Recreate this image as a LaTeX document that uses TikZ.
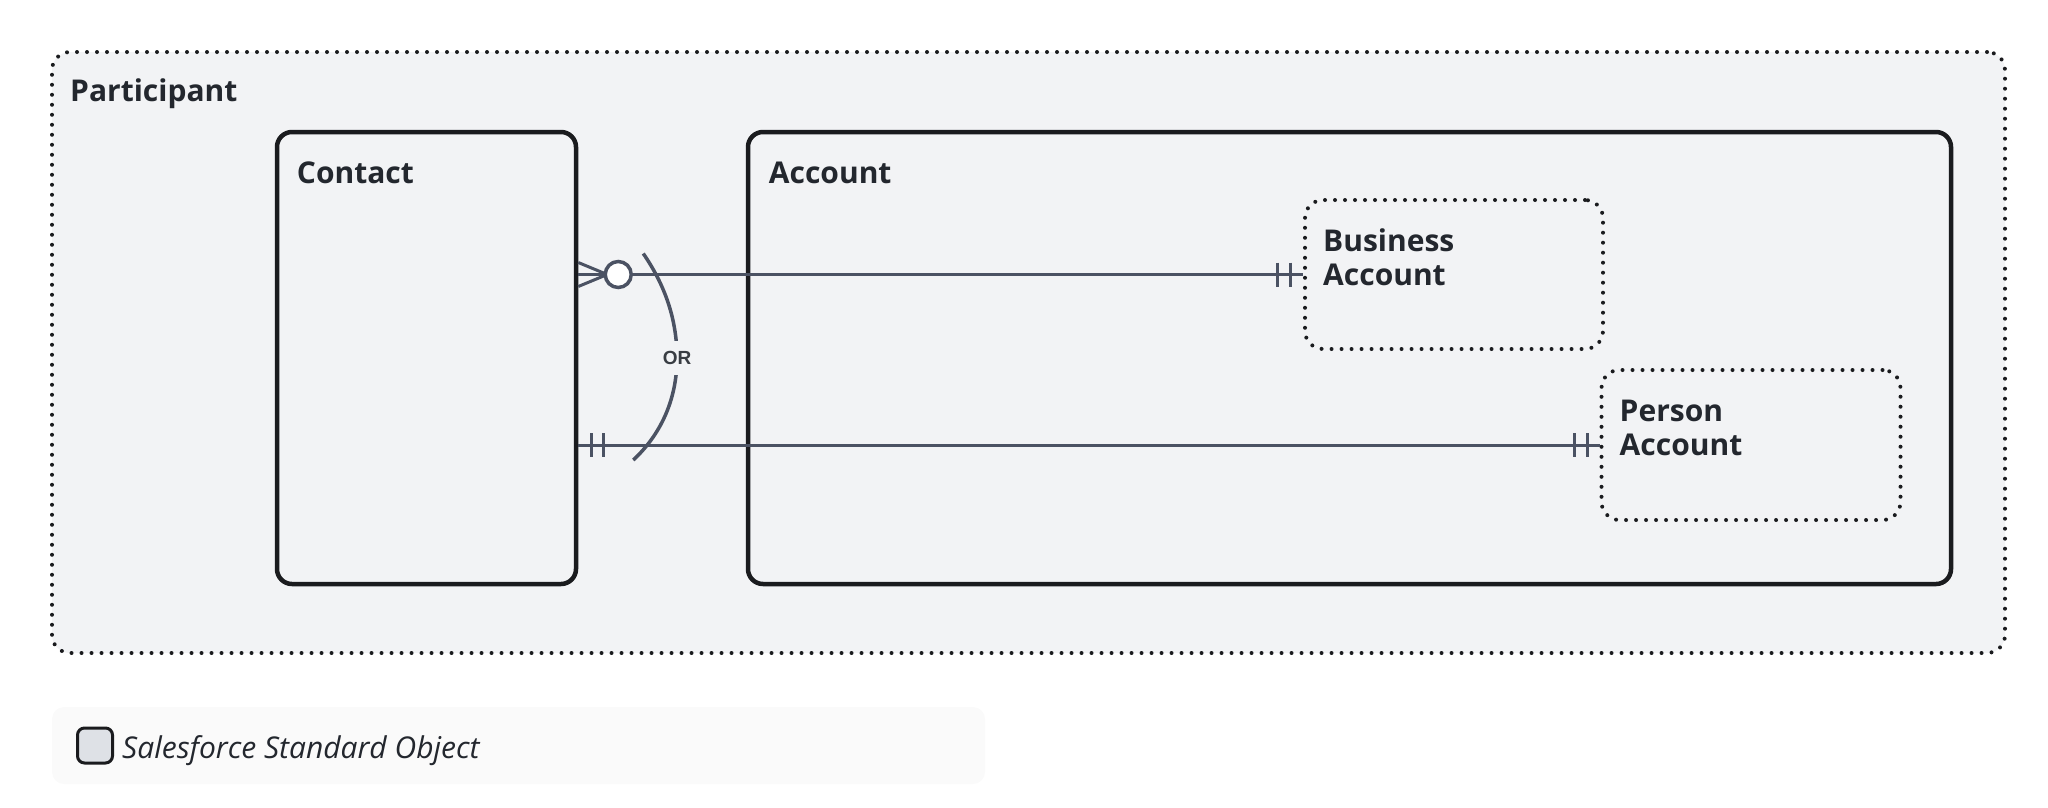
\documentclass[tikz,border=0pt]{standalone}
\usepackage{fontspec}
\setmainfont{Open Sans}
\newfontfamily\orfont{Liberation Sans}
\usetikzlibrary{positioning}
\definecolor{panelbg}{HTML}{F2F3F5}
\definecolor{legbg}{HTML}{FAFAFA}
\definecolor{swatchc}{HTML}{DEE1E6}
\definecolor{edgec}{HTML}{1A1B1E}
\definecolor{relc}{HTML}{4B5263}
\definecolor{inkc}{HTML}{23272E}

\begin{document}
\begin{tikzpicture}[x=1pt,y=-1pt, every node/.style={text=inkc},
  obj/.style={draw=edgec,line width=4.5pt,rounded corners=15pt,fill=panelbg},
  grp/.style={draw=edgec,line width=4pt,dash pattern=on 0pt off 10pt,line cap=round,rounded corners=18pt,fill=panelbg},
  ttl/.style={font=\fontsize{30}{34}\selectfont\bfseries,anchor=base west,inner sep=0pt,align=left},
  rel/.style={draw=relc,line width=3pt}]
  \useasboundingbox (0,0) rectangle (2048,807);
  \node[grp,minimum width=1953pt,minimum height=601pt] (part) at (1028.5,352.5) {};
  \node[ttl] (parttl) at ([shift={(20,51)}]part.north west) {Participant};

  \node[obj,minimum width=299pt,minimum height=452pt] (contact) at (426.5,358) {};
  \node[ttl] (conttl) at ([shift={(22,54)}]contact.north west) {Contact};
  \node[obj,minimum width=1203pt,minimum height=452pt] (account) at (1349.5,358) {};
  \node[ttl] (accttl) at ([shift={(23,54)}]account.north west) {Account};

  \node[grp,minimum width=298pt,minimum height=149pt] (bizacc) at (1454,274.5) {};
  \node[ttl] (bizttl) at ([shift={(20,87)}]bizacc.north west) {Business\\Account};
  \node[grp,minimum width=299pt,minimum height=150pt] (peracc) at (1751,445) {};
  \node[ttl] (perttl) at ([shift={(20,87)}]peracc.north west) {Person\\Account};

  \coordinate (c1) at (contact.east |- bizacc.west);
  \coordinate (c2) at (contact.east |- peracc.west);
  \draw[rel] (c1) -- (bizacc.west);
  \draw[rel] (c1) ++(0,-12) -- ++(29,12) -- ++(-29,12);
  \draw[rel,line width=3.5pt,fill=white] (c1) ++(40,0) circle (13);
  \draw[rel] (bizacc.west) ++(-26,-12) -- ++(0,24) ++(13,-24) -- ++(0,24);
  \draw[rel] (c2) -- (peracc.west);
  \draw[rel] (c2) ++(13,-12) -- ++(0,24) ++(12,-24) -- ++(0,24);
  \draw[rel] (peracc.west) ++(-25,-12) -- ++(0,24) ++(13,-24) -- ++(0,24);

  \coordinate (ortop) at ([shift={(65,-21)}]c1);
  \coordinate (orbot) at ([shift={(55,15)}]c2);
  \draw[rel,line width=3.5pt] (ortop) .. controls ([shift={(22,32)}]ortop) and (677,320) .. (677,358)
    .. controls (677,400) and ([shift={(27,-25)}]orbot) .. (orbot);
  \node[fill=panelbg,font=\orfont\bfseries\fontsize{19}{22}\selectfont,text=inkc!90,inner xsep=3pt,inner ysep=10pt] (orlbl) at (677,358) {OR};

  \node[fill=legbg,rounded corners=12pt,minimum width=933pt,minimum height=77pt] (legend) at (518.5,745.5) {};
  \node[draw=edgec,fill=swatchc,line width=3pt,rounded corners=7pt,minimum size=35pt] (swatch) at (95,745.5) {};
  \node[font=\fontsize{30}{34}\selectfont\itshape,anchor=base west,inner sep=0pt] (legtxt) at ([shift={(8,12.5)}]swatch.east) {Salesforce Standard Object};
\end{tikzpicture}
\end{document}
